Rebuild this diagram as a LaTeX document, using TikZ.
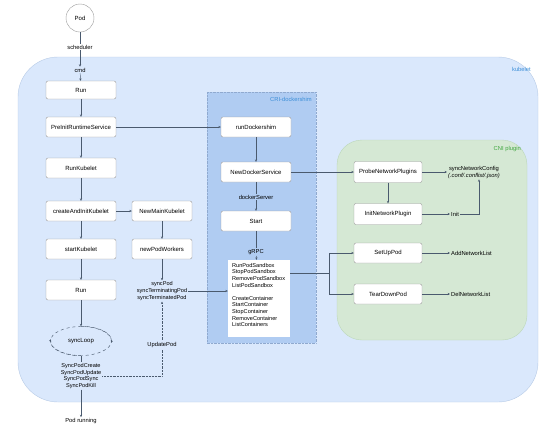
\documentclass[tikz,border=0pt]{standalone}
\usepackage{fontspec}
\setmainfont{Liberation Sans}
\usetikzlibrary{arrows.meta,shapes.geometric}
\definecolor{kubeletfill}{HTML}{DAE8FC}
\definecolor{kubeletline}{HTML}{B7CBE6}
\definecolor{crifill}{HTML}{B0CCF2}
\definecolor{criline}{HTML}{8FA9CF}
\definecolor{cnifill}{HTML}{D5E8D4}
\definecolor{cniline}{HTML}{BCD7BA}
\definecolor{boxline}{HTML}{9A9A9A}
\definecolor{linecol}{HTML}{4A5A6E}
\definecolor{kubelettext}{HTML}{3D8FD8}
\definecolor{cnitext}{HTML}{3FA63F}
\tikzset{
  fn/.style={draw=boxline, fill=white, rounded corners=2pt, minimum width=70pt,
    minimum height=20pt, inner sep=1pt, font=\fontsize{6}{7}\selectfont},
  txt/.style={inner sep=1pt, align=center, font=\fontsize{5.8}{7}\selectfont},
  link/.style={draw=linecol, line width=0.45pt, -{Stealth[length=2.4pt,width=2.2pt]}},
  plain/.style={draw=linecol, line width=0.45pt},
}
\begin{document}
\begin{tikzpicture}[x=1pt,y=-1pt]
\useasboundingbox (0,0) rectangle (555,429);
% containers
\draw[kubeletline, fill=kubeletfill, rounded corners=40pt] (18,57) rectangle (538,402);
\node[txt, text=kubelettext, anchor=east] (kubeletlbl) at (532,69) {kubelet};
\draw[criline, fill=crifill, densely dotted] (207,92) rectangle (316,343);
\node[txt, text=kubelettext, anchor=east] (crilbl) at (313,99) {CRI-dockershim};
\draw[cniline, fill=cnifill, rounded corners=25pt] (337,140) rectangle (527,340);
\node[txt, text=cnitext, anchor=east] (cnilbl) at (522,149) {CNI plugin};

% kubelet chain
\node[circle, draw=boxline, fill=white, minimum size=28pt, inner sep=0pt,
  font=\fontsize{6}{7}\selectfont] (pod) at (80,18) {Pod};
\node[txt, fill=white] (sched) at (80,47) {scheduler};
\node[txt] (cmd) at (80,70) {cmd};
\node[fn, minimum height=18pt] (run) at (81,90) {Run};
\node[fn] (preinit) at (81,127) {PreInitRuntimeService};
\node[fn] (runkubelet) at (81,168) {RunKubelet};
\node[fn] (createinit) at (81,211) {createAndInitKubelet};
\node[fn] (startkubelet) at (81,249) {startKubelet};
\node[fn] (run2) at (81,290) {Run};
\node[ellipse, draw=linecol, dashed, line width=0.45pt, minimum width=61pt,
  minimum height=29pt, font=\fontsize{6}{7}\selectfont] (syncloop) at (81,341) {syncLoop};
\node[txt, font=\fontsize{5.6}{6.6}\selectfont] (syncpodlist) at (81,376)
  {SyncPodCreate\\SyncPodUpdate\\SyncPodSync\\SyncPodKill};
\node[txt] (podrunning) at (81,421) {Pod running};

\node[fn, minimum width=60pt] (newmain) at (162,211) {NewMainKubelet};
\node[fn, minimum width=60pt] (newworkers) at (162,249) {newPodWorkers};
\node[txt, font=\fontsize{5.6}{6.8}\selectfont] (syncpod) at (162,291)
  {syncPod\\syncTerminatingPod\\syncTerminatedPod};
\node[txt, fill=kubeletfill] (updatepod) at (162,345) {UpdatePod};

% dockershim
\node[fn] (rundocker) at (256,127) {runDockershim};
\node[fn] (newdocker) at (256,172) {NewDockerService};
\node[txt] (dockerserver) at (256,197) {dockerServer};
\node[fn] (start) at (256,221) {Start};
\node[txt] (grpc) at (256,252) {gRPC};
\node[fill=white, minimum width=62pt, minimum height=77pt, inner sep=0pt] (methods) at (259,298.5) {};
\node[txt, anchor=north west, align=left, font=\fontsize{5.6}{6.6}\selectfont] (methodlist) at (231,262)
  {RunPodSandbox\\StopPodSandbox\\RemovePodSandbox\\ListPodSandbox\\[6.6pt]
   CreateContainer\\StartContainer\\StopContainer\\RemoveContainer\\ListContainers};

% cni plugin
\node[fn, minimum width=68pt, minimum height=21pt] (probe) at (388,172) {ProbeNetworkPlugins};
\node[fn, minimum width=68pt, minimum height=21pt] (initnet) at (388,214) {InitNetworkPlugin};
\node[fn, minimum width=68pt] (setup) at (388,253) {SetUpPod};
\node[fn, minimum width=68pt] (teardown) at (388,294) {TearDownPod};
\node[txt, anchor=west] (syncnet) at (447,172) {syncNetworkConfig\\\textit{(.conf/.conflist/.json)}};
\node[txt, anchor=west] (init) at (450,214) {Init};
\node[txt, anchor=west] (addnet) at (450,253) {AddNetworkList};
\node[txt, anchor=west] (delnet) at (450,294) {DelNetworkList};
\coordinate (fork) at (329,273);

% connectors
\draw[plain] (pod) -- (sched);
\draw[link] (sched) -- (cmd);
\draw[link] (cmd) -- (run);
\foreach \a/\b in {run/preinit, preinit/runkubelet, runkubelet/createinit,
  createinit/startkubelet, startkubelet/run2, run2/syncloop, newmain/newworkers,
  newworkers/syncpod, rundocker/newdocker, dockerserver/start, grpc/methods,
  probe/initnet, syncpodlist/podrunning}
  \draw[link] (\a) -- (\b);
\draw[link] (createinit) -- (newmain);
\draw[link] (preinit) -- (rundocker);
\draw[link] (newdocker) -- (probe);
\draw[link] (probe) -- (syncnet.west |- probe);
\draw[link] (initnet) -- (init);
\draw[link] (addnet.west -| setup.east) -- (addnet);
\draw[link] (delnet.west -| teardown.east) -- (delnet);
\draw[link] (init.east) -| ([xshift=5pt]syncnet.south);
\draw[plain] (newdocker) -- (dockerserver);
\draw[plain] (start) -- (grpc);
\draw[plain] (syncloop) -- (syncpodlist);
\draw[plain] (methods.east |- fork) -- (fork);
\draw[link] (fork) |- (setup);
\draw[link] (fork) |- (teardown);
\draw[link] (syncpod.east) -- (syncpod.east -| methods.west);
\draw[link, densely dotted] ([yshift=0pt]syncpodlist.east) -| (syncpod.south);
\node[txt, fill=kubeletfill] at (updatepod) {UpdatePod};
% loop arrows
\draw[link, dashed] (syncloop.north) arc[start angle=90, end angle=-8, x radius=30.5pt, y radius=14.5pt];
\draw[link, dashed] (syncloop.south) arc[start angle=270, end angle=172, x radius=30.5pt, y radius=14.5pt];
\end{tikzpicture}
\end{document}
